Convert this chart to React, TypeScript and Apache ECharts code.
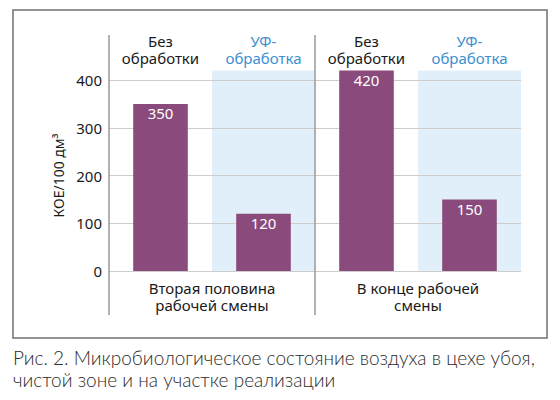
import { useEffect, useRef } from "react";
import * as echarts from "echarts";

const barCategories = ["Вторая половина — без обработки", "Вторая половина — УФ", "В конце — без обработки", "В конце — УФ"];
const headerLabels = ["Без\nобработки", "УФ-\nобработка", "Без\nобработки", "УФ-\nобработка"];
const uvTreated = [false, true, false, true];
const periodLabels = ["Вторая половина\nрабочей смены", "В конце рабочей\nсмены"];
const values = [350, 120, 420, 150];
const yTicks = [0, 100, 200, 300, 400];
const yAxisName = "КОЕ/100 дм³";
const caption = "Рис. 2. Микробиологическое состояние воздуха в цехе убоя,\nчистой зоне и на участке реализации";

const FONT = "'Noto Sans', 'Open Sans', sans-serif";
const CAPTION_FONT = "Lato, 'Noto Sans', sans-serif";
const BAR = "#8a4a7b";
const SHADE = "#e1effb";
const BLUE = "#3d8fd1";
const AXIS = "#9a9a9a";

export default function App() {
  const ref = useRef<HTMLDivElement>(null);
  useEffect(() => {
    document.body.style.margin = "0";
    if (!ref.current) return;
    const chart = echarts.init(ref.current, null, { renderer: "svg" });
    const shadeTop = Math.max(...values);
    const shadeData = uvTreated.map((t) => (t ? shadeTop : "-"));
    chart.setOption({
      animation: false,
      textStyle: { fontFamily: FONT },
      grid: { left: 109, right: 39, top: 80, bottom: 129, containLabel: false },
      xAxis: [
        {
          type: "category",
          data: barCategories,
          position: "bottom",
          axisLabel: { show: false },
          axisTick: { show: false },
          axisLine: { show: false },
        },
        {
          type: "category",
          data: headerLabels,
          position: "top",
          axisTick: { show: false },
          axisLine: { show: false },
          axisLabel: {
            interval: 0,
            margin: 48,
            verticalAlign: "top",
            fontSize: 15,
            lineHeight: 17,
            fontFamily: FONT,
            color: (_v: string, i: number) => (uvTreated[i] ? BLUE : "#1a1a1a"),
          },
        },
        {
          type: "category",
          data: periodLabels,
          position: "bottom",
          axisTick: { show: false },
          axisLine: { show: false },
          axisLabel: {
            interval: 0,
            margin: 8,
            color: "#1a1a1a",
            fontSize: 15,
            lineHeight: 17,
            fontFamily: FONT,
          },
        },
      ],
      yAxis: {
        type: "value",
        min: yTicks[0],
        max: yTicks[yTicks.length - 1],
        interval: yTicks[1] - yTicks[0],
        z: 2,
        name: yAxisName,
        nameLocation: "middle",
        nameRotate: 90,
        nameGap: 43,
        nameTextStyle: { color: "#1a1a1a", fontSize: 14, fontFamily: FONT },
        axisLine: { show: false },
        axisTick: { show: false },
        axisLabel: { color: "#1a1a1a", fontSize: 15, margin: 7, fontFamily: FONT },
        splitLine: { show: true, lineStyle: { color: "#cdcdcd", width: 1 } },
      },
      series: [
        {
          type: "bar",
          xAxisIndex: 1,
          data: shadeData,
          barWidth: "100%",
          itemStyle: { color: SHADE },
          silent: true,
          clip: false,
          z: 1,
        },
        {
          type: "bar",
          xAxisIndex: 0,
          data: values,
          barWidth: "53%",
          itemStyle: { color: BAR },
          clip: false,
          z: 3,
          label: {
            show: true,
            position: "insideTop",
            distance: 2,
            color: "#ffffff",
            fontSize: 15,
            fontFamily: FONT,
          },
        },
      ],
      graphic: [
        {
          type: "rect",
          shape: { x: 13, y: 10, width: 534, height: 328 },
          style: { fill: "none", stroke: "#707070", lineWidth: 1.5 },
          silent: true,
        },
        {
          type: "line",
          shape: { x1: 109, y1: 35, x2: 109, y2: 315 },
          style: { stroke: AXIS, lineWidth: 1.5 },
          z: 10,
        },
        {
          type: "line",
          shape: { x1: 315, y1: 35, x2: 315, y2: 315 },
          style: { stroke: AXIS, lineWidth: 1.5 },
          z: 10,
        },
        {
          type: "text",
          x: 13,
          y: 346,
          style: {
            text: caption,
            fill: "#2b2b2b",
            font: `300 19px ${CAPTION_FONT}`,
            lineHeight: 22,
          },
        },
      ],
    });
    return () => chart.dispose();
  }, []);
  return <div ref={ref} style={{ width: 560, height: 400 }} />;
}
